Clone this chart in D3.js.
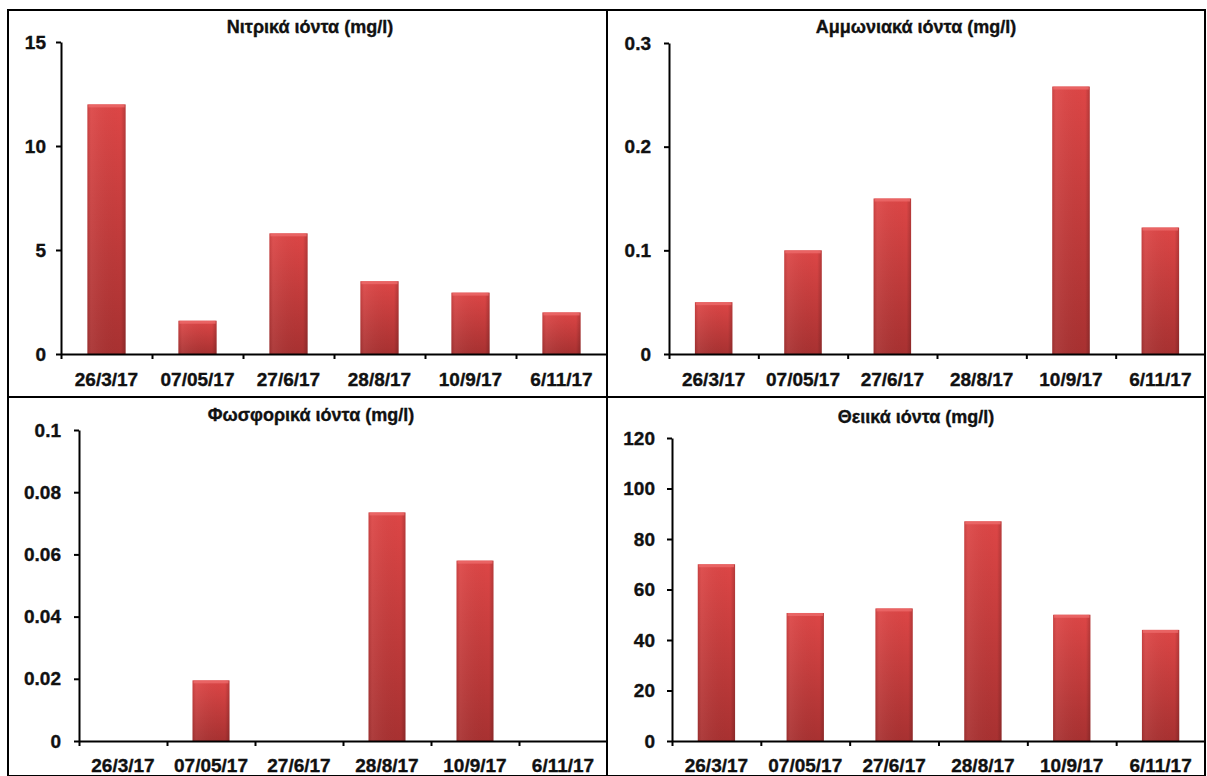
<!DOCTYPE html>
<html>
<head>
<meta charset="utf-8">
<script src="https://cdn.jsdelivr.net/npm/d3@7"></script>
<style>
  html, body { margin: 0; padding: 0; background: #fff; }
  svg { display: block; }
  text { font-family: "Liberation Sans", Arial, sans-serif; font-weight: bold; fill: #111; }
</style>
</head>
<body>
<svg id="chart" width="1207" height="776"></svg>
<script>
// Sampling dates (shared by all four panels)
const dates = ["26/3/17", "07/05/17", "27/6/17", "28/8/17", "10/9/17", "6/11/17"];

// Ion concentrations, mg/l
const nitrates   = [12, 1.6, 5.8, 3.5, 2.95, 2.0];
const ammonium   = [0.05, 0.1, 0.15, 0, 0.258, 0.122];
const phosphates = [0, 0.0195, 0, 0.0735, 0.058, 0];
const sulfates   = [70, 50.7, 52.5, 87, 50, 44];

// Y tick values and their labels
const nitrateTicks   = [0, 5, 10, 15];
const nitrateLabels  = ["0", "5", "10", "15"];
const ammoniumTicks  = [0, 0.1, 0.2, 0.3];
const ammoniumLabels = ["0", "0.1", "0.2", "0.3"];
const phosphateTicks  = [0, 0.02, 0.04, 0.06, 0.08, 0.1];
const phosphateLabels = ["0", "0.02", "0.04", "0.06", "0.08", "0.1"];
const sulfateTicks  = [0, 20, 40, 60, 80, 100, 120];
const sulfateLabels = ["0", "20", "40", "60", "80", "100", "120"];

const svg = d3.select("#chart");

// Bar gradient: bright red on top, darker toward the base
const defs = svg.append("defs");
const g1 = defs.append("linearGradient").attr("id", "barFill")
  .attr("x1", 0).attr("y1", 0).attr("x2", 0).attr("y2", 1);
g1.append("stop").attr("offset", "0%").attr("stop-color", "#dd4646");
g1.append("stop").attr("offset", "100%").attr("stop-color", "#a83131");
const g2 = defs.append("linearGradient").attr("id", "barSide")
  .attr("x1", 0).attr("y1", 0).attr("x2", 1).attr("y2", 0);
g2.append("stop").attr("offset", "0%").attr("stop-color", "#000").attr("stop-opacity", 0.10);
g2.append("stop").attr("offset", "10%").attr("stop-color", "#fff").attr("stop-opacity", 0.06);
g2.append("stop").attr("offset", "88%").attr("stop-color", "#000").attr("stop-opacity", 0.0);
g2.append("stop").attr("offset", "100%").attr("stop-color", "#000").attr("stop-opacity", 0.18);

const TICK_FONT = "19px";
const TITLE_FONT = "18px";

function styleText(sel) {
  sel.attr("fill", "#111").attr("stroke", "#111").attr("stroke-width", 0.35);
}

function panel(cfg) {
  const g = svg.append("g");
  const x = d3.scaleBand().domain(dates).range([cfg.x0, cfg.x1])
    .paddingInner(0.58).paddingOuter(0.29);
  const y = d3.scaleLinear().domain(cfg.domain).range([cfg.zero, cfg.top]);
  const idx = d3.scaleLinear().domain([0, dates.length]).range([cfg.x0, cfg.x1]);

  // Bars
  cfg.values.forEach((d, k) => {
    if (!(d > 0)) return;
    const bx = x(dates[k]), bw = x.bandwidth();
    const by = y(d), bh = y(0) - y(d);
    const s = g.append("g").attr("class", "bar");
    s.append("rect").attr("x", bx).attr("y", by).attr("width", bw).attr("height", bh)
      .attr("fill", "url(#barFill)");
    s.append("rect").attr("x", bx).attr("y", by).attr("width", bw).attr("height", bh)
      .attr("fill", "url(#barSide)");
    s.append("rect").attr("x", bx + 1).attr("y", by).attr("width", bw - 2).attr("height", Math.min(3, bh))
      .attr("fill", "#ec6a6a").attr("opacity", 0.8);
  });

  // Y axis
  const ya = g.append("g").attr("transform", `translate(${cfg.x0},0)`)
    .call(d3.axisLeft(y).tickValues(cfg.ticks)
      .tickFormat((d, i) => cfg.labels[i]).tickSize(5).tickSizeOuter(0).tickPadding(cfg.ypad));
  ya.select(".domain").attr("stroke", "#000").attr("stroke-width", 2);
  ya.selectAll(".tick line").attr("stroke", "#000").attr("stroke-width", 2);
  styleText(ya.selectAll(".tick text").style("font-size", TICK_FONT));

  // X axis: tick marks on category boundaries, labels centred in bands
  const xa = g.append("g").attr("transform", `translate(0,${cfg.zero})`)
    .call(d3.axisBottom(idx).tickValues(d3.range(dates.length)).tickFormat("")
      .tickSize(5).tickSizeOuter(0));
  xa.select(".domain").attr("stroke", "#000").attr("stroke-width", 2);
  xa.selectAll(".tick line").attr("stroke", "#000").attr("stroke-width", 2);

  const xl = g.append("g").attr("transform", `translate(0,${cfg.zero})`)
    .call(d3.axisBottom(x).tickSize(0).tickPadding(cfg.xpad));
  xl.select(".domain").remove();
  styleText(xl.selectAll(".tick text").style("font-size", TICK_FONT));

  styleText(g.append("text").attr("x", cfg.titleX).attr("y", cfg.titleY)
    .attr("text-anchor", "middle").style("font-size", TITLE_FONT).text(cfg.title));
}

panel({ title: "Νιτρικά ιόντα (mg/l)", titleX: 310, titleY: 33,
  values: nitrates, domain: [0, 15], ticks: nitrateTicks, labels: nitrateLabels,
  x0: 61, x1: 607, zero: 354, top: 42, ypad: 10, xpad: 19 });
panel({ title: "Αμμωνιακά ιόντα (mg/l)", titleX: 916, titleY: 33,
  values: ammonium, domain: [0, 0.3], ticks: ammoniumTicks, labels: ammoniumLabels,
  x0: 669, x1: 1205, zero: 354, top: 43, ypad: 13, xpad: 19 });
panel({ title: "Φωσφορικά ιόντα  (mg/l)", titleX: 311, titleY: 421,
  values: phosphates, domain: [0, 0.1], ticks: phosphateTicks, labels: phosphateLabels,
  x0: 79, x1: 607, zero: 741, top: 430, ypad: 13, xpad: 18 });
panel({ title: "Θειικά ιόντα (mg/l)", titleX: 916, titleY: 423,
  values: sulfates, domain: [0, 120], ticks: sulfateTicks, labels: sulfateLabels,
  x0: 672, x1: 1205, zero: 741, top: 438, ypad: 12, xpad: 18 });

// Panel frame
const frame = svg.append("g").attr("fill", "none").attr("stroke", "#000").attr("stroke-width", 2);
frame.append("rect").attr("x", 8).attr("y", 10).attr("width", 1197).attr("height", 766);
frame.append("line").attr("x1", 607).attr("x2", 607).attr("y1", 10).attr("y2", 776);
frame.append("line").attr("x1", 8).attr("x2", 1205).attr("y1", 397).attr("y2", 397);
</script>
</body>
</html>
